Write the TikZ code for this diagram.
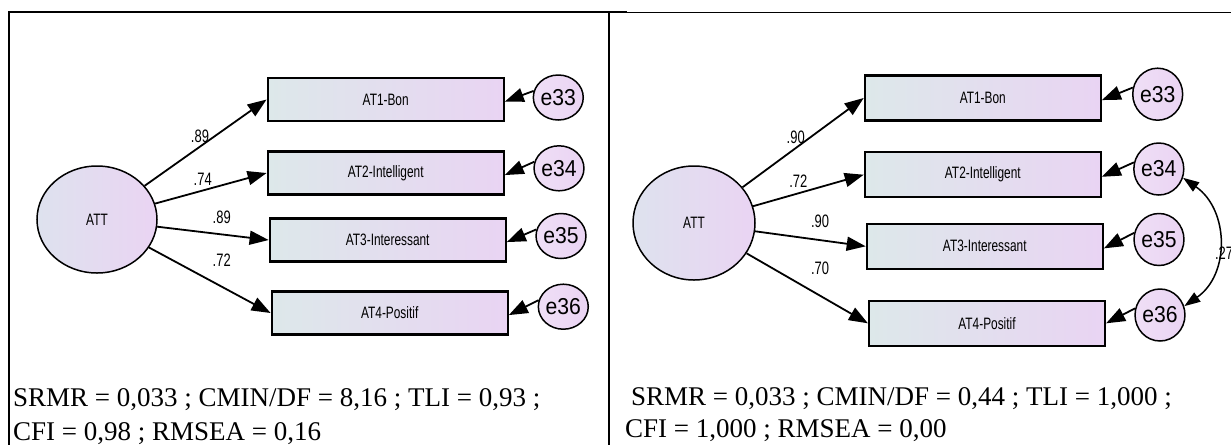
\documentclass[tikz,border=0pt]{standalone}
\usepackage{fontspec}
\setmainfont{Liberation Serif}
\newfontfamily\amosfont{Liberation Sans}[FakeStretch=0.72]
\newfontfamily\efont{Liberation Sans}[FakeStretch=0.92]
\usetikzlibrary{shapes.geometric,arrows.meta}
\definecolor{boxL}{RGB}{221,232,234}
\definecolor{boxR}{RGB}{233,212,243}
\definecolor{latL}{RGB}{222,226,238}
\definecolor{latR}{RGB}{234,212,243}
\begin{document}
\begin{tikzpicture}[x=1pt,y=-1pt,
 latent/.style={ellipse, draw, line width=1.5pt, left color=latL, right color=latR, inner sep=0pt, font=\fontsize{16.5}{18}\amosfont},
 obs/.style={rectangle, draw, line width=2.2pt, left color=boxL, right color=boxR, minimum width=236pt, inner sep=0pt, font=\fontsize{16.5}{18}\amosfont},
 err/.style={ellipse, draw, line width=1.5pt, left color=latR!75!white, right color=latR, inner sep=0pt, font=\fontsize{23}{25}\efont},
 load/.style={-{Triangle[length=19pt,width=14pt]}, line width=1.8pt},
 cov/.style={{Triangle[length=16pt,width=11pt]}-{Triangle[length=16pt,width=11pt]}, line width=1.5pt},
 lab/.style={font=\fontsize{18}{20}\amosfont, inner sep=0pt},
 fitstat/.style={anchor=base west, inner sep=0pt, font=\fontsize{27}{30}\selectfont},
 frameline/.style={line width=2pt}]
\useasboundingbox[fill=white] (0,0) rectangle (1231,445);
% frame
\draw[frameline] (8,12) -- (627,12);
\draw[line width=1pt] (627,12) -- (1231,12);
\draw[frameline] (9,11) -- (9,445);
\draw[frameline] (609,11) -- (609,445);
% ---------- left model ----------
\node[latent, minimum width=120pt, minimum height=107pt] (attL) at (97,219.5) {ATT};
\node[obs, minimum height=43pt] (L1) at (385.7,99.5) {AT1-Bon};
\node[obs, minimum height=43pt] (L2) at (385.7,173) {AT2-Intelligent};
\node[obs, minimum height=43pt] (L3) at (387.7,240) {AT3-Interessant};
\node[obs, minimum height=43pt] (L4) at (389.7,313) {AT4-Positif};
\node[err, minimum width=40pt, minimum height=45pt] (eL1) at (558.3,97.5) {e33};
\node[err, minimum width=40pt, minimum height=45pt] (eL2) at (559,168.3) {e34};
\node[err, minimum width=40pt, minimum height=45pt] (eL3) at (561,236) {e35};
\node[err, minimum width=40pt, minimum height=45pt] (eL4) at (563.3,306.7) {e36};
\draw[load] (attL) -- (L1.west);
\draw[load] (attL) -- (L2.west);
\draw[load] (attL) -- (L3.west);
\draw[load] (attL) -- (L4.west);
\draw[load] (eL1.165) -- (L1.-1);
\draw[load] (eL2.165) -- (L2.-1);
\draw[load] (eL3.165) -- (L3.-1);
\draw[load] (eL4.165) -- (L4.-1);
\node[lab] (lL1) at (200,136) {.89};
\node[lab] (lL2) at (202.7,179.3) {.74};
\node[lab] (lL3) at (221.7,217.7) {.89};
\node[lab] (lL4) at (221.7,260.7) {.72};
% ---------- right model ----------
\node[latent, minimum width=122pt, minimum height=114pt] (attR) at (694,223) {ATT};
\node[obs, minimum height=45pt] (R1) at (982.8,98) {AT1-Bon};
\node[obs, minimum height=45pt] (R2) at (982.8,174.7) {AT2-Intelligent};
\node[obs, minimum height=45pt] (R3) at (984.8,246.3) {AT3-Interessant};
\node[obs, minimum height=45pt] (R4) at (987,323.3) {AT4-Positif};
\node[err, minimum width=39pt, minimum height=52pt] (eR1) at (1157.7,94.2) {e33};
\node[err, minimum width=39pt, minimum height=52pt] (eR2) at (1158.8,169) {e34};
\node[err, minimum width=39pt, minimum height=52pt] (eR3) at (1159,239.5) {e35};
\node[err, minimum width=39pt, minimum height=52pt] (eR4) at (1160,315) {e36};
\draw[load] (attR) -- (R1.west);
\draw[load] (attR) -- (R2.west);
\draw[load] (attR) -- (R3.west);
\draw[load] (attR) -- (R4.west);
\draw[load] (eR1.165) -- (R1.-1);
\draw[load] (eR2.165) -- (R2.-1);
\draw[load] (eR3.165) -- (R3.-1);
\draw[load] (eR4.165) -- (R4.0);
\draw[cov] (eR2.-20) .. controls +(46,32) and +(46,-32) .. (eR4.20);
\node[lab] (lR5) at (1224,253) {.27};
\node[lab] (lR1) at (795.7,137.3) {.90};
\node[lab] (lR2) at (798.3,181.7) {.72};
\node[lab] (lR3) at (820,221.7) {.90};
\node[lab] (lR4) at (820,268.3) {.70};
% ---------- fit statistics ----------
\node[fitstat] (tL1) at (13,406) {SRMR = 0,033 ; CMIN/DF = 8,16 ; TLI = 0,93 ;};
\node[fitstat] (tL2) at (13,440) {CFI = 0,98 ; RMSEA = 0,16};
\node[fitstat] (tR1) at (631,405.7) {SRMR = 0,033 ; CMIN/DF = 0,44 ; TLI = 1,000 ;};
\node[fitstat] (tR2) at (625,437) {CFI = 1,000 ; RMSEA = 0,00};
\end{tikzpicture}
\end{document}
